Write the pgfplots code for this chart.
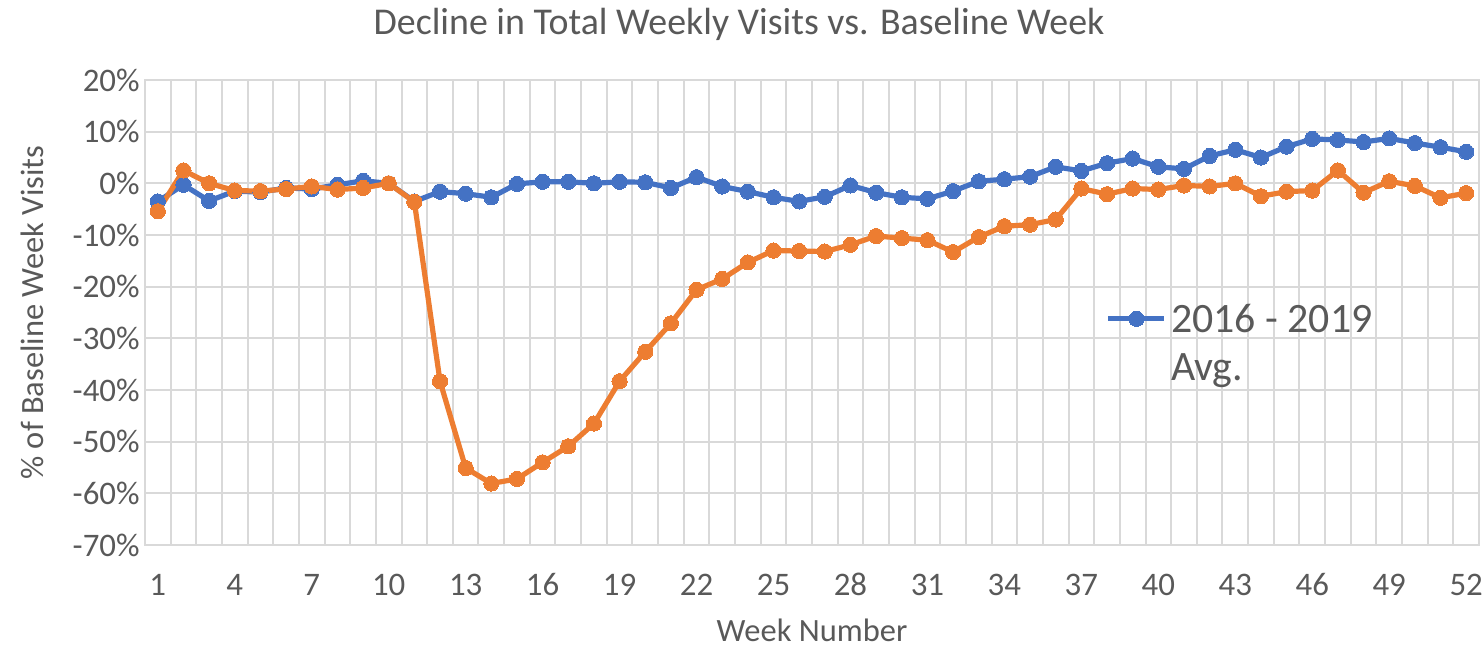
\documentclass[border=0pt]{standalone}
\usepackage{pgfplots}
\pgfplotsset{compat=1.18}
\usepackage{fontspec}
\setmainfont{Carlito}
\definecolor{cblue}{HTML}{4472C4}
\definecolor{corange}{HTML}{ED7D31}
\definecolor{cgrid}{HTML}{D9D9D9}
\definecolor{ctext}{HTML}{595959}

\pgfplotstableread{
week avg
1 -3.5
2 -0.3
3 -3.4
4 -1.5
5 -1.7
6 -0.9
7 -1.1
8 -0.3
9 0.5
10 0.0
11 -3.5
12 -1.6
13 -2.0
14 -2.7
15 -0.1
16 0.3
17 0.3
18 0.0
19 0.3
20 0.2
21 -0.9
22 1.2
23 -0.6
24 -1.6
25 -2.7
26 -3.5
27 -2.6
28 -0.4
29 -1.8
30 -2.7
31 -3.0
32 -1.5
33 0.4
34 0.8
35 1.3
36 3.2
37 2.4
38 3.9
39 4.8
40 3.2
41 2.8
42 5.3
43 6.5
44 5.0
45 7.1
46 8.6
47 8.4
48 8.0
49 8.7
50 7.8
51 7.0
52 6.1
}\avgdata

\pgfplotstableread{
week cur
1 -5.4
2 2.5
3 0.0
4 -1.4
5 -1.5
6 -1.1
7 -0.6
8 -1.2
9 -0.9
10 0.0
11 -3.6
12 -38.3
13 -55.1
14 -58.1
15 -57.2
16 -54.0
17 -50.9
18 -46.5
19 -38.3
20 -32.6
21 -27.1
22 -20.6
23 -18.5
24 -15.3
25 -13.0
26 -13.1
27 -13.2
28 -11.9
29 -10.2
30 -10.6
31 -11.0
32 -13.3
33 -10.4
34 -8.3
35 -8.0
36 -7.0
37 -1.0
38 -2.1
39 -1.0
40 -1.2
41 -0.4
42 -0.6
43 0.0
44 -2.5
45 -1.6
46 -1.4
47 2.5
48 -1.8
49 0.4
50 -0.5
51 -2.8
52 -1.9
}\curdata

\begin{document}
\begin{tikzpicture}
\begin{axis}[
  at={(0,0)}, anchor=south west,
  scale only axis, width=667bp, height=232.5bp,
  xmin=0.5, xmax=52.5, ymin=-70, ymax=20,
  xtick={1,4,7,10,13,16,19,22,25,28,31,34,37,40,43,46,49,52},
  xticklabels={1,4,7,10,13,16,19,22,25,28,31,34,37,40,43,46,49,52},
  minor xtick={0.5,1.5,...,52.5},
  ytick={-70,-60,-50,-40,-30,-20,-10,0,10,20},
  yticklabels={-70\%,-60\%,-50\%,-40\%,-30\%,-20\%,-10\%,0\%,10\%,20\%},
  ymajorgrids, xminorgrids,
  major grid style={cgrid, line width=1bp},
  minor grid style={cgrid, line width=1bp},
  major tick length=0pt, minor tick length=0pt,
  axis line style={cgrid, line width=1bp},
  tick label style={font=\fontsize{16.5}{20}\selectfont, text=ctext},
  xticklabel style={anchor=base, yshift=-25bp},
  yticklabel style={anchor=east, inner sep=0pt, xshift=-2.5bp},
  xlabel={Week Number},
  ylabel={\% of Baseline Week Visits},
  label style={font=\fontsize{16.3}{20}\selectfont, text=ctext},
  xlabel style={at={(rel axis cs:0.5,0)}, anchor=base, yshift=-48bp},
  ylabel style={at={(rel axis cs:-0.0847,0.5)}, anchor=center},
  title={Decline in Total Weekly Visits vs. Baseline Week},
  title style={font=\fontsize{19}{23}\selectfont, text=ctext, at={(rel axis cs:0.4453,1)}, anchor=center, yshift=22bp},
  legend cell align=left,
  legend image code/.code={\draw[mark repeat=2,mark phase=2,#1,yshift=12.5bp] plot coordinates {(0bp,0bp) (14bp,0bp) (28bp,0bp)};},
  legend style={draw=none, fill=none, at={(rel axis cs:0.720,0.527)}, anchor=north west,
    font=\fontsize{21}{24}\selectfont, text=ctext, inner sep=0pt,
    nodes={align=left}},
]
\addplot[cblue, line width=2.6bp, mark=*, mark size=3.8bp, mark options={fill=cblue, draw=cblue, line width=0pt}] table[x=week, y=avg] {\avgdata};
\addlegendentry{2016 - 2019\\Avg.}
\addplot[corange, line width=2.6bp, mark=*, mark size=3.8bp, mark options={fill=corange, draw=corange, line width=0pt}, forget plot] table[x=week, y=cur] {\curdata};
\end{axis}
\pgfresetboundingbox
\path[use as bounding box] (-72.5bp,-50bp) rectangle (669.5bp,272.5bp);
\end{tikzpicture}
\end{document}
